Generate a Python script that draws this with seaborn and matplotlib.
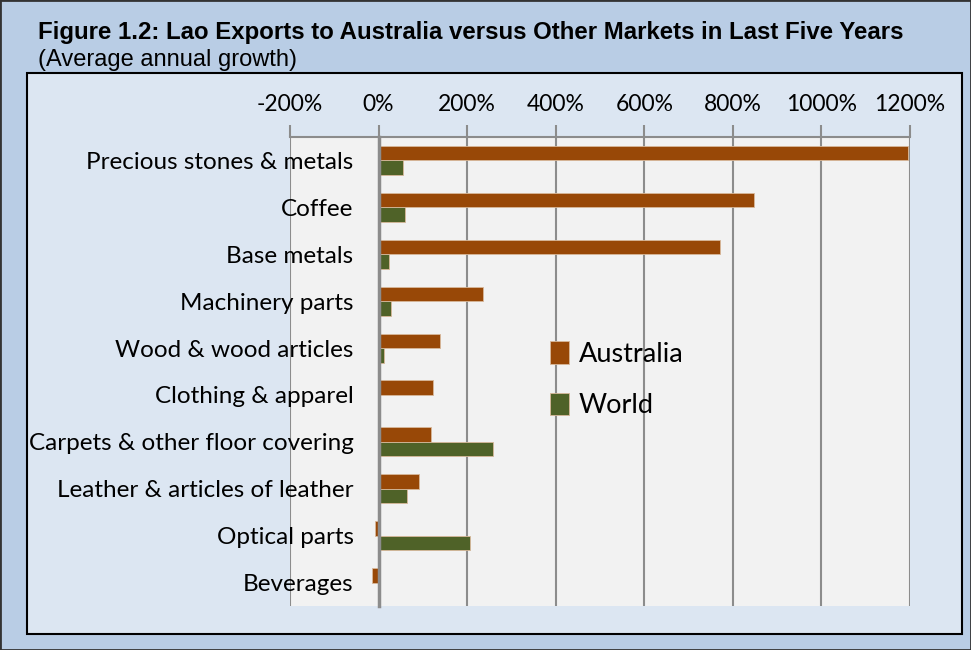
import numpy as np
import pandas as pd
import seaborn as sns
from matplotlib import pyplot as plt
from matplotlib.patches import Rectangle
from matplotlib.ticker import FuncFormatter, FixedLocator

# data (% average annual growth)
categories = ["Precious stones & metals", "Coffee", "Base metals", "Machinery parts",
              "Wood & wood articles", "Clothing & apparel", "Carpets & other floor covering",
              "Leather & articles of leather", "Optical parts", "Beverages"]
australia = [1195, 848, 771, 236, 138, 122, 119, 92, -7, -14]
world = [56, 59, 23, 27, 13, 0, 259, 64, 207, 0]
series = ["Australia", "World"]
colors = ["#984807", "#4f6228"]
xticks = [-200, 0, 200, 400, 600, 800, 1000, 1200]

df = pd.DataFrame({"cat": categories * 2,
                   "val": australia + world,
                   "series": [series[0]] * len(categories) + [series[1]] * len(categories)})

sns.set_style("white")
plt.rcParams['font.family'] = ['Lato', 'DejaVu Sans']
plt.rcParams['text.color'] = 'black'
plt.rcParams['xtick.labelcolor'] = 'black'
plt.rcParams['ytick.labelcolor'] = 'black'

W, H = 971, 650
fig = plt.figure(figsize=(W / 100, H / 100), dpi=100)
fig.patch.set_facecolor("#b9cde5")

# outer frame and inner chart box
fig.patches.append(Rectangle((0, 0), 1, 1, transform=fig.transFigure, fill=False,
                             edgecolor="#333333", lw=2, zorder=-5))
fig.patches.append(Rectangle((27 / W, 1 - 634 / H), (962 - 27) / W, (634 - 73) / H,
                             transform=fig.transFigure, facecolor="#dce6f2",
                             edgecolor="black", lw=1.5, zorder=-5))

ax = fig.add_axes([290 / W, 1 - 606 / H, 620 / W, (606 - 137) / H])
ax.set_facecolor("#f2f2f2")

sns.barplot(data=df, y="cat", x="val", hue="series", orient="h", order=categories,
            hue_order=series, palette=colors, width=0.62, ax=ax, saturation=1,
            edgecolor="#d8b89a", linewidth=0.6)

ax.set_xlim(-200, 1200)
ax.set_ylim(len(categories) - 0.5, -0.5)
ax.set_xlabel("")
ax.set_ylabel("")

# top value axis
ax.xaxis.tick_top()
ax.set_xticks(xticks)
ax.xaxis.set_major_formatter(FuncFormatter(lambda v, p: f"{v:.0f}%"))
ax.tick_params(axis="x", direction="out", length=9, width=1.5, color="#8c8c8c",
               labelsize=16.5, pad=7)
for v in xticks:
    if v != 0:
        ax.axvline(v, color="#8c8c8c", lw=1.5, zorder=0.5)

# category axis sits at 0
for s in ["right", "bottom"]:
    ax.spines[s].set_visible(False)
ax.spines["top"].set_color("#8c8c8c")
ax.spines["top"].set_linewidth(1.5)
ax.spines["left"].set_position(("data", 0))
ax.spines["left"].set_color("#8c8c8c")
ax.spines["left"].set_linewidth(2.5)
ax.spines["left"].set_zorder(3)
ax.yaxis.set_minor_locator(FixedLocator(np.arange(len(categories) + 1) - 0.5))
ax.tick_params(axis="y", which="major", length=0, labelsize=17.5, pad=18)
ax.tick_params(axis="y", which="minor", length=8, width=2.5, color="#8c8c8c")

leg = ax.legend(loc="upper left", bbox_to_anchor=(0.38, 0.616), frameon=False,
                fontsize=19.5, handlelength=0.72, handleheight=0.9, handletextpad=0.35,
                labelspacing=0.94)

fig.text(38 / W, 1 - 32 / H, "Figure 1.2: Lao Exports to Australia versus Other Markets in Last Five Years",
         fontsize=17.3, fontweight="bold", family=["Liberation Sans"], va="center")
fig.text(38 / W, 1 - 60 / H, "(Average annual growth)", fontsize=17,
         family=["Liberation Sans"], va="center")

fig.savefig("out.png", dpi=100, facecolor=fig.get_facecolor())
